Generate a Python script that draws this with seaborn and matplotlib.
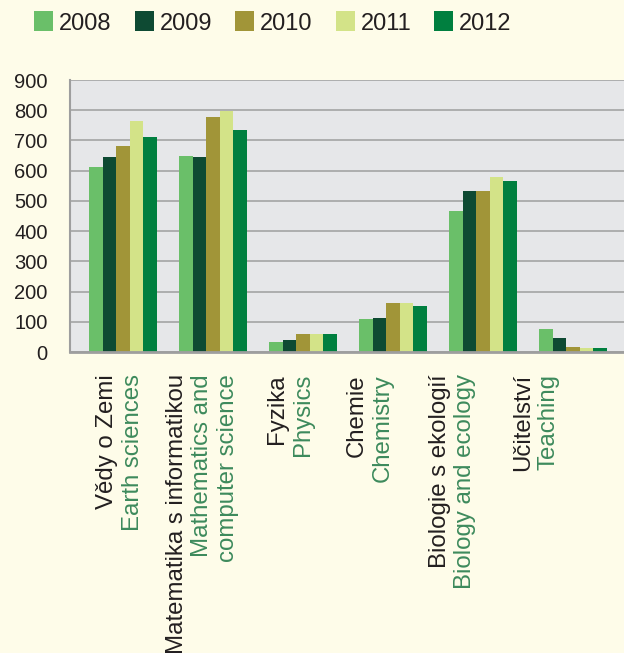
import matplotlib
matplotlib.use('Agg')
import pandas as pd
import matplotlib.pyplot as plt
import seaborn as sns

years = ['2008', '2009', '2010', '2011', '2012']
categories = ['Earth', 'Math', 'Physics', 'Chemistry', 'Biology', 'Teaching']
labels_cz = ['Vědy o Zemi', 'Matematika s informatikou', 'Fyzika', 'Chemie',
             'Biologie s ekologií', 'Učitelství']
labels_en = [['Earth sciences'], ['Mathematics and', 'computer science'], ['Physics'],
             ['Chemistry'], ['Biology and ecology'], ['Teaching']]

v2008 = [611, 650, 34, 108, 466, 75]
v2009 = [644, 644, 41, 111, 532, 45]
v2010 = [683, 776, 61, 161, 532, 16]
v2011 = [763, 799, 58, 161, 579, 12]
v2012 = [710, 736, 58, 151, 565, 12]

colors = ['#6abf69', '#0e4a33', '#a19538', '#d3e388', '#007f3f']
bg = '#fefce9'
W, H = 624, 653

sns.set_style('white')
plt.rcParams['font.family'] = ['Liberation Sans', 'DejaVu Sans']

df = pd.DataFrame({'cat': categories, '2008': v2008, '2009': v2009,
                   '2010': v2010, '2011': v2011, '2012': v2012})
df = df.melt(id_vars='cat', var_name='year', value_name='value')

fig = plt.figure(figsize=(W / 100, H / 100), dpi=100, facecolor=bg)
ax = fig.add_axes([70 / W, 1 - 352 / H, 554 / W, 272 / H])
ax.set_facecolor('#e6e7e9')

sns.barplot(data=df, x='cat', y='value', hue='year', order=categories,
            hue_order=years, palette=colors, width=0.75, saturation=1,
            linewidth=0, ax=ax)

ax.set_xlim(-0.589, 5.567)
ax.set_ylim(0, 900)
ax.set_yticks(range(0, 1000, 100))
ax.set_xticks([])
ax.set_xlabel('')
ax.set_ylabel('')
ax.grid(axis='y', color='#9e9e9e', lw=1.1)
ax.set_axisbelow(True)
for s in ['top', 'right']:
    ax.spines[s].set_visible(False)
ax.spines['left'].set_color('#9e9e9e')
ax.spines['left'].set_linewidth(1.5)
ax.spines['bottom'].set_color('#9e9e9e')
ax.spines['bottom'].set_linewidth(2)
ax.tick_params(axis='y', length=0, pad=16, labelsize=14.5, labelcolor='#231f20')

handles, labs = ax.get_legend_handles_labels()
ax.legend_.remove()
fig.legend(handles, labs, loc='center', bbox_to_anchor=(273 / W, 1 - 23 / H),
           ncol=5, frameon=False, fontsize=17, handlelength=0.8,
           handleheight=0.93, handletextpad=0.25, columnspacing=0.98,
           borderaxespad=0, labelcolor='#231f20')

# category labels: Czech in black, English in green, stacked as rotated columns
label_x = [107.5, 177, 277, 357, 440, 523]
for x0, cz, en in zip(label_x, labels_cz, labels_en):
    lines = [cz] + en
    cols = ['#231f20'] + ['#3d8a5c'] * len(en)
    for k, (txt, c) in enumerate(zip(lines, cols)):
        fig.text((x0 + 25.5 * k) / W, 1 - 374 / H, txt, rotation=90,
                 ha='center', va='top', fontsize=17.3, color=c)

fig.savefig('out.png', dpi=100, facecolor=bg)
